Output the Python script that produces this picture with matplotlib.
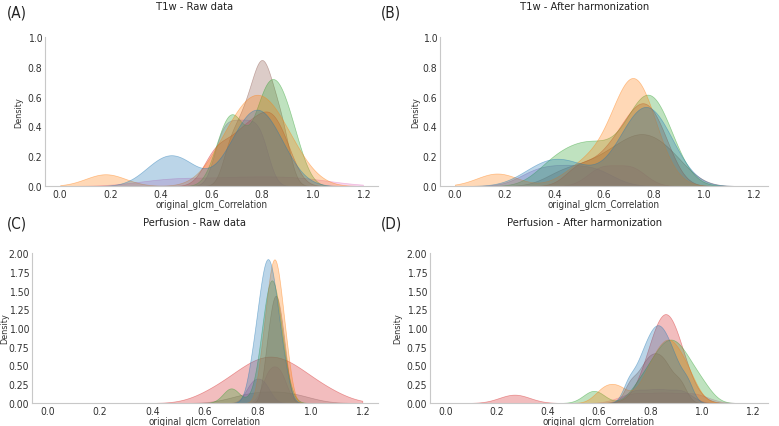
import pandas as pd
import matplotlib
matplotlib.use('Agg')
import matplotlib.pyplot as plt
import matplotlib.colors as mcolors
import seaborn as sns

sns.set_style('white')
plt.rcParams['font.family'] = ['DejaVu Sans']
plt.rcParams['font.stretch'] = 'condensed'

#%%
# sample values per site
sites = ['S1', 'S2', 'S3', 'S4', 'S5', 'S6', 'S7', 'S8']

t1_raw = {
    'S1': [0.38, 0.44, 0.50, 0.68, 0.72, 0.75, 0.77, 0.79, 0.81, 0.84, 0.88],
    'S2': [0.18, 0.63, 0.67, 0.70, 0.73, 0.755, 0.775, 0.79, 0.81, 0.83, 0.86, 0.89, 0.94],
    'S3': [0.63, 0.665, 0.69, 0.71, 0.78, 0.80, 0.82, 0.84, 0.86, 0.88, 0.90, 0.94],
    'S4': [0.60, 0.65, 0.70, 0.74, 0.77, 0.81, 0.83, 0.86, 0.90],
    'S5': [0.63, 0.665, 0.70, 0.735, 0.77, 0.805],
    'S6': [0.67, 0.71, 0.74, 0.765, 0.785, 0.80, 0.815, 0.835, 0.86, 0.89],
    'S7': [0.45, 0.72, 0.95],
}
t1_harm = {
    'S1': [0.33, 0.41, 0.49, 0.68, 0.71, 0.74, 0.76, 0.78, 0.80, 0.82, 0.85],
    'S2': [0.17, 0.50, 0.57, 0.675, 0.69, 0.70, 0.71, 0.72, 0.73, 0.74, 0.755, 0.775],
    'S3': [0.38, 0.45, 0.51, 0.56, 0.61, 0.70, 0.73, 0.75, 0.77, 0.79, 0.81, 0.83, 0.86],
    'S4': [0.50, 0.60, 0.66, 0.70, 0.73, 0.76, 0.78, 0.81, 0.85],
    'S5': [0.33, 0.45, 0.57],
    'S6': [0.44, 0.56, 0.64, 0.70, 0.74, 0.78, 0.83, 0.89],
    'S7': [0.59, 0.71],
}
perf_raw = {
    'S1': [0.777, 0.797, 0.809, 0.818, 0.826, 0.833, 0.840, 0.847, 0.854, 0.862, 0.871, 0.883, 0.904],
    'S2': [0.814, 0.832, 0.8425, 0.851, 0.858, 0.865, 0.872, 0.879, 0.8875, 0.898, 0.916],
    'S3': [0.70, 0.820, 0.833, 0.841, 0.847, 0.852, 0.858, 0.863, 0.869, 0.877, 0.890],
    'S4': [0.614, 0.685, 0.725, 0.756, 0.783, 0.806, 0.828, 0.850, 0.872, 0.894,
           0.917, 0.944, 0.975, 1.015, 1.086],
    'S5': [0.78, 0.824],
    'S6': [0.8335, 0.850, 0.861, 0.870, 0.879, 0.890, 0.9065],
    'S7': [0.835, 0.865, 0.895],
    'S8': [0.755, 0.850, 0.945],
}
perf_harm = {
    'S1': [0.717, 0.756, 0.780, 0.799, 0.815, 0.830, 0.845, 0.861, 0.880, 0.904, 0.943],
    'S2': [0.62, 0.68, 0.78, 0.81, 0.835, 0.855, 0.87, 0.885, 0.905, 0.93, 0.96],
    'S3': [0.58, 0.752, 0.796, 0.823, 0.844, 0.863, 0.880, 0.897, 0.916, 0.937, 0.964, 1.008],
    'S4': [0.27, 0.805, 0.823, 0.834, 0.842, 0.850, 0.857, 0.863, 0.870, 0.878, 0.886, 0.897, 0.915],
    'S5': [0.74, 0.83, 0.92],
    'S6': [0.724, 0.769, 0.796, 0.820, 0.844, 0.871, 0.916],
    'S7': [0.73, 0.85, 0.97],
}

titles = ['T1w - Raw data', 'T1w - After harmonization',
          'Perfusion - Raw data', 'Perfusion - After harmonization']
letters = ['(A)', '(B)', '(C)', '(D)']
t1_ticks = [0.0, 0.2, 0.4, 0.6, 0.8, 1.0]
perf_ticks = [0.00, 0.25, 0.50, 0.75, 1.00, 1.25, 1.50, 1.75, 2.00]
x_ticks = [0.0, 0.2, 0.4, 0.6, 0.8, 1.0, 1.2]

#%%
def toLong(d):
    rows = [(s, v) for s in d for v in d[s]]
    return pd.DataFrame(rows, columns=['site', 'value'])


def densityPanel(ax, d, bw, yticks, yfmt, ylab_x):
    df = toLong(d)
    order = [s for s in sites if s in d]
    pal = dict(zip(sites, sns.color_palette('tab10', len(sites))))
    sns.kdeplot(data=df, x='value', hue='site', hue_order=order, palette=pal,
                fill=True, common_norm=True, bw_adjust=bw, clip=(0, 1.2),
                cut=100, gridsize=500, alpha=0.3, linewidth=0.5,
                legend=False, ax=ax)
    # soften the outlines
    for c in ax.collections:
        ec = c.get_edgecolor()
        if len(ec):
            c.set_edgecolor(mcolors.to_rgba(ec[0], 0.45))
    ax.set_xlim(-0.06, 1.26)
    ax.set_ylim(yticks[0], yticks[-1])
    ax.set_xticks(x_ticks)
    ax.set_xticklabels(['%.1f' % t for t in x_ticks])
    ax.set_yticks(yticks)
    ax.set_yticklabels([yfmt % t for t in yticks])
    ax.tick_params(labelsize=7.5, colors='#333333', pad=2, length=0)
    ax.set_xlabel('original_glcm_Correlation', fontsize=7, color='#333333')
    ax.xaxis.set_label_coords(0.5, -0.082)
    ax.set_ylabel('Density', fontsize=6.5, color='#333333')
    ax.yaxis.set_label_coords(ylab_x, 0.5)
    sns.despine(ax=ax)
    for sp in ['left', 'bottom']:
        ax.spines[sp].set_color('#c8c8c8')
        ax.spines[sp].set_linewidth(0.8)


#%%
fig = plt.figure(figsize=(7.79, 4.27), dpi=100)
W, H = 779, 427
boxes = [(45, 378, 38, 187), (440, 768, 38, 187),
         (32, 378, 254, 404), (430, 768, 254, 404)]
axs = [fig.add_axes([l / W, 1 - b / H, (r - l) / W, (b - t) / H]) for l, r, t, b in boxes]

densityPanel(axs[0], t1_raw, 0.7, t1_ticks, '%.1f', -0.066)
densityPanel(axs[1], t1_harm, 0.8, t1_ticks, '%.1f', -0.061)
densityPanel(axs[2], perf_raw, 1.0, perf_ticks, '%.2f', -0.066)
densityPanel(axs[3], perf_harm, 0.6, perf_ticks, '%.2f', -0.083)

# titles centred on the figure columns, panel letters top left
for i, (tl, lt) in enumerate(zip(titles, letters)):
    cx = 0.25 if i % 2 == 0 else 0.75
    ty = 7 if i < 2 else 223
    fig.text(cx, 1 - ty / H, tl, ha='center', va='center', fontsize=8, color='#222222')
    lx = 7 if i % 2 == 0 else 381
    ly = 13 if i < 2 else 224
    fig.text(lx / W, 1 - ly / H, lt, ha='left', va='center', fontsize=11, color='#222222')

fig.savefig('out.png', dpi=100)
